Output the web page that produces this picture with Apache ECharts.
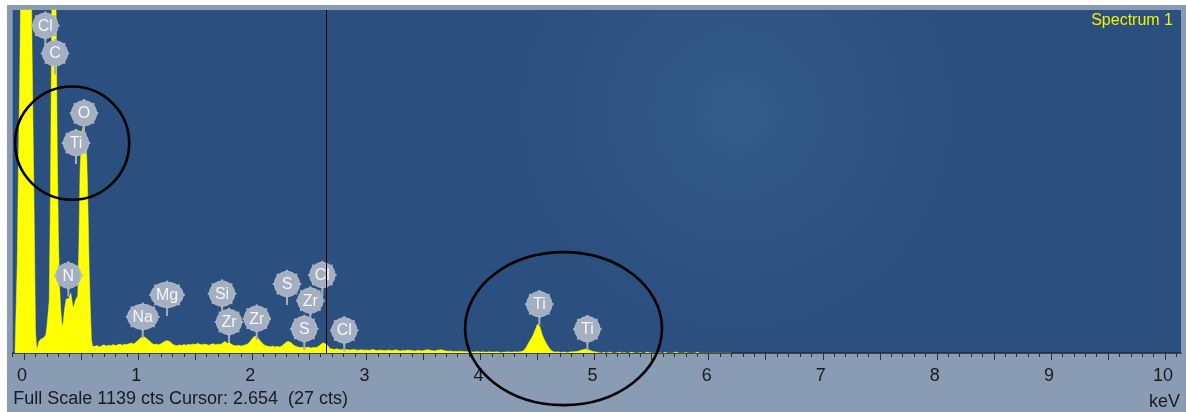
<!DOCTYPE html>
<html>
<head>
<meta charset="utf-8">
<script src="https://cdn.jsdelivr.net/npm/echarts@6/dist/echarts.min.js"></script>
<style>
  html, body { margin: 0; padding: 0; background: #ffffff; }
  #chart { position: absolute; left: 7px; top: 5px; width: 1179px; height: 407px; }
</style>
</head>
<body>
<div id="chart"></div>
<script>
// EDS spectrum, 10 eV channels from -0.08 keV to 0.60 keV
const LOW_START = -0.08;
const LOW_STEP = 0.01;
const LOW_COUNTS = [
  0, 0, 300, 620, 870, 1200, 1700, 2100,
  2300, 2400, 2350, 2200, 2000, 1700, 1350, 1000, 700, 400,
  70, 15, 22, 38, 44, 47, 50, 50, 52, 60,
  90, 130, 175, 500, 1000, 1600, 2100, 2200, 1150, 700,
  400, 230, 150, 100, 90, 130, 160, 180, 185, 180,
  190, 198, 172, 150, 160, 175, 178, 190, 350, 600,
  690, 740, 760, 755, 720, 640, 480, 280, 150, 45,
  22
];

// 20 eV channels from 0.62 keV to 6.20 keV
const HIGH_START = 0.62;
const HIGH_STEP = 0.02;
const HIGH_COUNTS = [
  22, 25, 20, 24, 27, 23, 26, 24, 28, 25,
  27, 30, 26, 29, 28, 31, 33, 30, 36, 42,
  50, 55, 52, 46, 40, 32, 28, 30, 27, 31,
  36, 40, 41, 37, 30, 26, 24, 27, 25, 28,
  26, 29, 27, 30, 28, 32, 29, 27, 30, 28,
  26, 29, 31, 27, 30, 28, 33, 38, 32, 35,
  28, 25, 24, 26, 23, 25, 27, 30, 38, 48,
  56, 53, 45, 36, 28, 24, 22, 21, 23, 20,
  22, 20, 24, 30, 37, 38, 34, 27, 22, 20,
  18, 19, 17, 20, 18, 17, 19, 18, 22, 28,
  34, 31, 25, 15, 13, 12, 14, 12, 11, 13,
  12, 11, 10, 12, 11, 9, 10, 11, 9, 10,
  9, 10, 12, 9, 8, 10, 9, 8, 9, 10,
  8, 9, 11, 8, 7, 9, 8, 10, 9, 8,
  7, 8, 9, 7, 8, 10, 11, 9, 8, 7,
  9, 10, 11, 8, 7, 6, 7, 5, 6, 5,
  6, 5, 5, 4, 5, 4, 3, 4, 4, 3,
  4, 3, 3, 4, 3, 3, 4, 3, 2, 3,
  3, 4, 3, 3, 4, 3, 4, 5, 9, 18,
  32, 45, 58, 77, 96, 88, 62, 44, 30, 18,
  8, 4, 3, 4, 2, 3, 3, 2, 3, 4,
  4, 5, 7, 9, 11, 13, 12, 9, 6, 4,
  3, 2, 0, 3, 0, 2, 3, 0, 0, 2,
  3, 0, 2, 0, 0, 3, 2, 0, 0, 2,
  0, 0, 3, 2, 0, 0, 0, 2, 0, 0,
  3, 0, 0, 0, 2, 3, 0, 0, 0, 2,
  0, 0, 0, 0, 3, 0, 0, 0, 0, 0,
  0, 0, 0, 0, 0, 0, 0, 0, 0, 0
];

const FULL_SCALE = 1139;          // cts at the top of the plot
const CURSOR_KEV = 2.654;
const CURSOR_CTS = 27;
const KEV_MIN = -0.1;
const KEV_MAX = 10.14;
const KEV_LABELS = [0, 1, 2, 3, 4, 5, 6, 7, 8, 9, 10];

// Element line markers: symbol, energy (keV), height of the tag (cts)
const MARKER_LABELS = ['Cl', 'C', 'O', 'Ti', 'N', 'Na', 'Mg', 'Si', 'Zr', 'Zr', 'S', 'Zr', 'Cl', 'S', 'Cl', 'Ti', 'Ti'];
const MARKER_KEV    = [0.186, 0.271, 0.525, 0.455, 0.388, 1.040, 1.253, 1.735, 1.796, 2.039, 2.304, 2.509, 2.614, 2.456, 2.806, 4.516, 4.937];
const MARKER_CTS    = [1087, 995, 796, 697, 257, 120, 193, 197, 103, 114, 229, 174, 259, 80, 75, 162, 79];

// Hand-drawn rings: centre keV, centre cts, radius keV, radius cts
const RING_KEV   = [0.421, 4.728];
const RING_CTS   = [697, 81];
const RING_RKEV  = [0.50, 0.863];
const RING_RCTS  = [188, 254];

// ---- build series data ----
const spectrum = [];
LOW_COUNTS.forEach((c, i) => spectrum.push([+(LOW_START + i * LOW_STEP).toFixed(2), c]));
HIGH_COUNTS.forEach((c, i) => spectrum.push([+(HIGH_START + i * HIGH_STEP).toFixed(2), c]));

const tenthTicks = [];
for (let i = -1; i <= 101; i++) tenthTicks.push(+(i / 10).toFixed(1));
const halfTicks = [];
for (let i = 0; i <= 20; i++) halfTicks.push(i / 2);

const markerData = MARKER_LABELS.map((n, i) => [MARKER_KEV[i], MARKER_CTS[i]]);
const ringData = RING_KEV.map((k, i) => [k, RING_CTS[i], RING_RKEV[i], RING_RCTS[i]]);

const LABEL_FONT = '16px "Liberation Sans", Arial, sans-serif';
const measureCtx = document.createElement('canvas').getContext('2d');
measureCtx.font = LABEL_FONT;

const TAG_FILL = '#a4afc1';

// Round tag with small nubs around its rim and a short stem below
function renderMarker(params, api) {
  const p = api.coord([api.value(0), api.value(1)]);
  const name = MARKER_LABELS[params.dataIndex];
  const w = measureCtx.measureText(name).width;
  const rx = Math.max(12.6, w / 2 + 5);
  const ry = 12.6;
  const children = [];
  children.push({
    type: 'line',
    shape: { x1: p[0], y1: p[1] + 8, x2: p[0], y2: p[1] + 21 },
    style: { stroke: TAG_FILL, lineWidth: 2 }
  });
  for (let a = 0; a < 8; a++) {
    const t = a * Math.PI / 4;
    children.push({
      type: 'rect',
      shape: { x: p[0] + Math.cos(t) * (rx + 0.6) - 1.1, y: p[1] + Math.sin(t) * (ry + 0.6) - 1.1, width: 2.2, height: 2.2 },
      style: { fill: TAG_FILL }
    });
  }
  children.push({
    type: 'ellipse',
    shape: { cx: p[0], cy: p[1], rx: rx, ry: ry },
    style: { fill: TAG_FILL, stroke: '#b3bdcb', lineWidth: 1 }
  });
  children.push({
    type: 'text',
    style: {
      text: name, x: p[0], y: p[1] + 0.5, align: 'center', verticalAlign: 'middle',
      fill: '#f4f6fa', font: LABEL_FONT
    }
  });
  return { type: 'group', children: children };
}

function renderRing(params, api) {
  const c = api.coord([api.value(0), api.value(1)]);
  const s = api.size([api.value(2), api.value(3)]);
  return {
    type: 'ellipse',
    shape: { cx: c[0], cy: c[1], rx: s[0], ry: s[1] },
    style: { fill: 'none', stroke: '#000000', lineWidth: 2.6 }
  };
}

const chart = echarts.init(document.getElementById('chart'), null, { renderer: 'canvas' });

chart.setOption({
  animation: false,
  backgroundColor: '#8a9bb4',
  title: {
    text: 'Spectrum 1',
    right: 13,
    top: 8,
    padding: 0,
    textStyle: { color: '#f2f200', fontSize: 16, fontWeight: 'normal', fontFamily: '"Liberation Sans", Arial, sans-serif' }
  },
  grid: {
    left: 5.7, right: 5, top: 5, bottom: 59,
    show: true,
    borderWidth: 0,
    backgroundColor: new echarts.graphic.RadialGradient(0.62, 0.3, 0.65, [
      { offset: 0, color: '#355b8b' },
      { offset: 1, color: '#2b4f7e' }
    ])
  },
  xAxis: [
    {
      type: 'value', min: KEV_MIN, max: KEV_MAX, position: 'bottom',
      axisLine: { show: true, onZero: false, lineStyle: { color: '#1c2838', width: 1.5 } },
      axisTick: { show: true, customValues: tenthTicks, length: 4, lineStyle: { color: '#27303c', width: 1 } },
      axisLabel: {
        show: true, customValues: KEV_LABELS, margin: 14, padding: [0, 4, 0, 0],
        color: '#1a1a1a', fontSize: 18, fontFamily: '"Liberation Sans", Arial, sans-serif',
        formatter: v => String(Math.round(v))
      },
      splitLine: { show: false }
    },
    {
      type: 'value', min: KEV_MIN, max: KEV_MAX, position: 'bottom',
      axisLine: { show: false, onZero: false },
      axisTick: { show: true, customValues: halfTicks, length: 7, lineStyle: { color: '#27303c', width: 1 } },
      axisLabel: { show: false },
      splitLine: { show: false }
    }
  ],
  yAxis: { type: 'value', min: 0, max: FULL_SCALE, show: false, splitLine: { show: false } },
  graphic: [
    {
      type: 'text', left: 6.3, top: 385,
      style: {
        text: 'Full Scale ' + FULL_SCALE + ' cts Cursor: ' + CURSOR_KEV.toFixed(3) + '  (' + CURSOR_CTS + ' cts)',
        fill: '#1a1a1a', font: '18px "Liberation Sans", Arial, sans-serif'
      }
    },
    {
      type: 'text', right: 6, top: 388,
      style: { text: 'keV', fill: '#1a1a1a', font: '18px "Liberation Sans", Arial, sans-serif' }
    }
  ],
  series: [
    {
      type: 'line',
      data: spectrum,
      xAxisIndex: 0,
      showSymbol: false,
      symbol: 'none',
      lineStyle: { color: '#ffff00', width: 0.5 },
      areaStyle: { color: '#ffff00', opacity: 1 },
      z: 2,
      markLine: {
        silent: true,
        symbol: ['none', 'none'],
        label: { show: false },
        lineStyle: { color: '#000000', width: 1, type: 'solid' },
        data: [{ xAxis: CURSOR_KEV }]
      }
    },
    {
      type: 'custom',
      xAxisIndex: 0,
      data: ringData,
      renderItem: renderRing,
      clip: false,
      silent: true,
      z: 3
    },
    {
      type: 'custom',
      xAxisIndex: 0,
      data: markerData,
      renderItem: renderMarker,
      clip: false,
      silent: true,
      z: 4
    }
  ]
});
</script>
</body>
</html>
